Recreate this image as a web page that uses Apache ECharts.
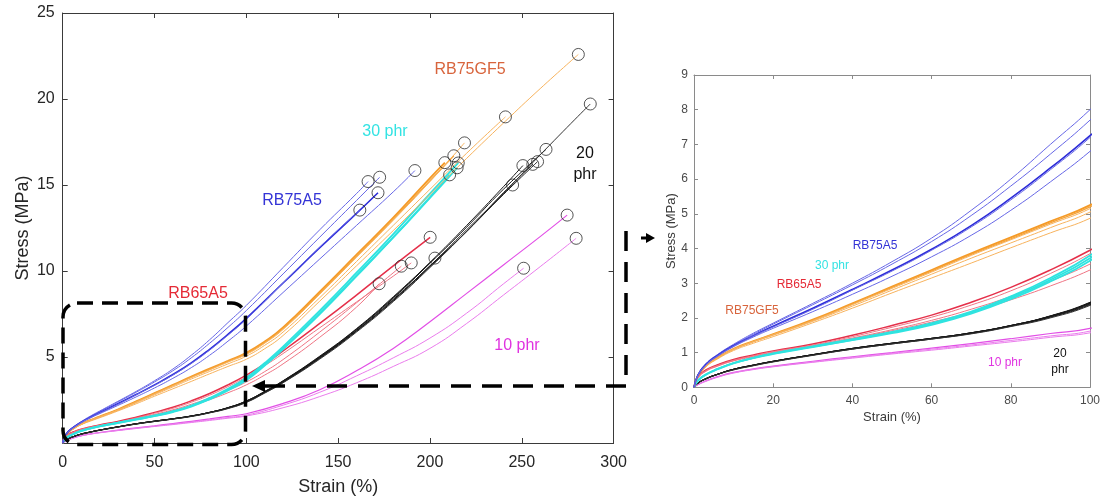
<!DOCTYPE html>
<html>
<head>
<meta charset="utf-8">
<script src="https://cdn.jsdelivr.net/npm/echarts@6/dist/echarts.min.js"></script>
<style>
  html, body { margin: 0; padding: 0; background: #fff; }
  #chart { width: 1104px; height: 501px; }
</style>
</head>
<body>
<div id="chart"></div>
<script>
// Stress–strain curves, [strain %, stress MPa]; each group holds its replicate specimens.
const rb75a5 = [
  [[0,0],[1,0.36],[3,0.68],[6,0.95],[10,1.24],[15,1.56],[20,1.85],[30,2.42],[40,3.0],[50,3.62],[60,4.3],[70,5.1],[80,6.0],[90,7.0],[100,8.0],[120,10.2],[140,12.4],[160,14.5],[166.3,15.2]],
  [[0,0],[1,0.35],[3,0.67],[6,0.94],[10,1.22],[15,1.53],[20,1.82],[30,2.38],[40,2.95],[50,3.55],[60,4.2],[70,4.95],[80,5.8],[90,6.72],[100,7.7],[120,9.83],[140,11.97],[160,14.1],[172.6,15.45]],
  [[0,0],[1,0.35],[3,0.66],[6,0.92],[10,1.2],[15,1.49],[20,1.76],[30,2.28],[40,2.82],[50,3.38],[60,3.98],[70,4.66],[80,5.45],[90,6.32],[100,7.25],[120,9.3],[140,11.35],[160,13.35],[171.7,14.55]],
  [[0,0],[1,0.34],[3,0.65],[6,0.91],[10,1.19],[15,1.48],[20,1.74],[30,2.25],[40,2.8],[50,3.35],[60,3.95],[70,4.62],[80,5.4],[90,6.27],[100,7.2],[120,9.3],[140,11.4],[161.8,13.54]],
  [[0,0],[1,0.34],[3,0.64],[6,0.9],[10,1.17],[15,1.45],[20,1.7],[30,2.18],[40,2.68],[50,3.2],[60,3.76],[70,4.38],[80,5.1],[90,5.92],[100,6.8],[120,8.75],[140,10.7],[160,12.65],[180,14.6],[191.8,15.84]]
];
const rb75gf5 = [
  [[0,0],[1,0.34],[3,0.62],[6,0.86],[10,1.11],[15,1.33],[20,1.53],[30,1.95],[40,2.42],[50,2.9],[60,3.38],[70,3.86],[80,4.32],[90,4.78],[100,5.25],[110,5.9],[120,6.72],[140,8.8],[160,10.95],[180,13.1],[200,15.4],[208.1,16.3]],
  [[0,0],[1,0.34],[3,0.62],[6,0.85],[10,1.1],[15,1.32],[20,1.52],[30,1.93],[40,2.4],[50,2.88],[60,3.35],[70,3.83],[80,4.28],[90,4.74],[100,5.2],[110,5.85],[120,6.65],[140,8.7],[160,10.85],[180,13.0],[200,15.25],[213,16.7]],
  [[0,0],[1,0.33],[3,0.61],[6,0.85],[10,1.1],[15,1.32],[20,1.52],[30,1.92],[40,2.38],[50,2.85],[60,3.32],[70,3.8],[80,4.25],[90,4.7],[100,5.15],[110,5.8],[120,6.6],[140,8.65],[160,10.8],[180,12.95],[200,15.2],[218.8,17.45]],
  [[0,0],[1,0.33],[3,0.6],[6,0.84],[10,1.09],[15,1.31],[20,1.5],[30,1.9],[40,2.34],[50,2.8],[60,3.26],[70,3.72],[80,4.16],[90,4.6],[100,5.05],[110,5.68],[120,6.45],[140,8.45],[160,10.55],[180,12.65],[200,14.75],[220,16.85],[241.1,18.96]],
  [[0,0],[1,0.32],[3,0.59],[6,0.82],[10,1.06],[15,1.27],[20,1.46],[30,1.86],[40,2.28],[50,2.72],[60,3.15],[70,3.58],[80,4.02],[90,4.45],[100,4.87],[110,5.48],[120,6.25],[140,8.25],[160,10.3],[180,12.35],[200,14.45],[220,16.55],[240,18.6],[260,20.6],[280.8,22.59]]
];
const phr30 = [
  [[0,0],[1,0.2],[3,0.37],[6,0.53],[10,0.7],[15,0.85],[20,0.98],[30,1.18],[40,1.39],[50,1.6],[60,1.85],[70,2.18],[80,2.62],[90,3.15],[100,3.8],[110,4.65],[120,5.6],[140,7.7],[160,9.9],[180,12.15],[200,14.5],[215.4,16.28]],
  [[0,0],[1,0.2],[3,0.37],[6,0.53],[10,0.7],[15,0.85],[20,0.97],[30,1.17],[40,1.37],[50,1.58],[60,1.82],[70,2.15],[80,2.58],[90,3.1],[100,3.72],[110,4.55],[120,5.5],[140,7.55],[160,9.75],[180,11.95],[200,14.25],[214.8,16.0]],
  [[0,0],[1,0.19],[3,0.36],[6,0.52],[10,0.69],[15,0.84],[20,0.96],[30,1.16],[40,1.36],[50,1.56],[60,1.8],[70,2.12],[80,2.54],[90,3.05],[100,3.65],[110,4.5],[120,5.45],[140,7.5],[160,9.7],[180,11.95],[200,14.3],[210.7,15.59]]
];
const rb65a5 = [
  [[0,0],[1,0.3],[3,0.5],[6,0.65],[10,0.8],[15,0.93],[20,1.05],[30,1.25],[40,1.5],[50,1.78],[60,2.08],[70,2.45],[80,2.88],[90,3.38],[100,3.95],[110,4.6],[120,5.35],[140,6.95],[160,8.6],[180,10.3],[200.1,11.96]],
  [[0,0],[1,0.29],[3,0.48],[6,0.63],[10,0.78],[15,0.91],[20,1.03],[30,1.22],[40,1.46],[50,1.73],[60,2.02],[70,2.37],[80,2.78],[90,3.28],[100,3.85],[110,4.5],[120,5.2],[140,6.7],[160,8.2],[180,9.7],[189.8,10.47]],
  [[0,0],[1,0.28],[3,0.47],[6,0.62],[10,0.77],[15,0.9],[20,1.01],[30,1.2],[40,1.42],[50,1.66],[60,1.93],[70,2.25],[80,2.62],[90,3.06],[100,3.55],[110,4.15],[120,4.85],[140,6.45],[160,8.15],[184.4,10.28]],
  [[0,0],[1,0.27],[3,0.46],[6,0.61],[10,0.76],[15,0.88],[20,0.99],[30,1.18],[40,1.4],[50,1.63],[60,1.88],[70,2.17],[80,2.52],[90,2.92],[100,3.38],[110,3.95],[120,4.6],[140,6.15],[160,7.9],[172.3,9.26]]
];
const phr20 = [
  [[0,0],[1,0.12],[3,0.25],[6,0.38],[10,0.52],[15,0.64],[20,0.75],[30,0.94],[40,1.12],[50,1.27],[60,1.41],[70,1.57],[80,1.78],[90,2.06],[100,2.45],[110,3.0],[120,3.62],[140,5.05],[160,6.65],[180,8.5],[202.7,10.75]],
  [[0,0],[1,0.12],[3,0.25],[6,0.38],[10,0.52],[15,0.64],[20,0.75],[30,0.94],[40,1.12],[50,1.27],[60,1.41],[70,1.57],[80,1.78],[90,2.05],[100,2.42],[110,2.96],[120,3.57],[140,4.98],[160,6.55],[180,8.35],[200,10.3],[220,12.4],[245,15.0]],
  [[0,0],[1,0.12],[3,0.25],[6,0.38],[10,0.52],[15,0.64],[20,0.75],[30,0.94],[40,1.12],[50,1.27],[60,1.41],[70,1.57],[80,1.78],[90,2.05],[100,2.44],[110,2.99],[120,3.6],[140,5.02],[160,6.62],[180,8.45],[200,10.5],[220,12.65],[240,14.9],[250.6,16.13]],
  [[0,0],[1,0.12],[3,0.24],[6,0.37],[10,0.51],[15,0.63],[20,0.74],[30,0.93],[40,1.11],[50,1.26],[60,1.4],[70,1.56],[80,1.77],[90,2.03],[100,2.4],[110,2.94],[120,3.55],[140,4.95],[160,6.52],[180,8.3],[200,10.3],[220,12.3],[240,14.55],[256,16.2]],
  [[0,0],[1,0.12],[3,0.24],[6,0.37],[10,0.51],[15,0.63],[20,0.74],[30,0.93],[40,1.1],[50,1.25],[60,1.39],[70,1.55],[80,1.76],[90,2.02],[100,2.38],[110,2.92],[120,3.52],[140,4.92],[160,6.5],[180,8.28],[200,10.25],[220,12.3],[240,14.45],[258.6,16.36]],
  [[0,0],[1,0.12],[3,0.25],[6,0.38],[10,0.52],[15,0.64],[20,0.75],[30,0.94],[40,1.12],[50,1.27],[60,1.41],[70,1.57],[80,1.78],[90,2.05],[100,2.43],[110,2.98],[120,3.6],[140,5.0],[160,6.6],[180,8.42],[200,10.45],[220,12.55],[240,14.75],[263.2,17.07]],
  [[0,0],[1,0.11],[3,0.24],[6,0.37],[10,0.5],[15,0.62],[20,0.73],[30,0.92],[40,1.1],[50,1.25],[60,1.39],[70,1.54],[80,1.75],[90,2.0],[100,2.36],[110,2.9],[120,3.5],[140,4.88],[160,6.45],[180,8.22],[200,10.2],[220,12.3],[240,14.5],[260,16.75],[287.3,19.71]]
];
const phr10 = [
  [[0,0],[1,0.08],[3,0.19],[6,0.31],[10,0.43],[15,0.53],[20,0.61],[30,0.75],[40,0.88],[50,1.0],[60,1.13],[70,1.26],[80,1.4],[90,1.55],[100,1.7],[120,2.3],[140,3.1],[160,4.2],[180,5.5],[200,7.05],[220,8.7],[240,10.35],[260,12.0],[274.7,13.25]],
  [[0,0],[1,0.08],[3,0.18],[6,0.3],[10,0.42],[15,0.52],[20,0.6],[30,0.73],[40,0.86],[50,0.98],[60,1.1],[70,1.22],[80,1.35],[90,1.48],[100,1.62],[120,2.2],[140,2.95],[160,3.9],[180,4.95],[200,6.1],[220,7.55],[240,9.25],[251,10.16]],
  [[0,0],[1,0.07],[3,0.17],[6,0.29],[10,0.41],[15,0.51],[20,0.59],[30,0.72],[40,0.84],[50,0.96],[60,1.07],[70,1.19],[80,1.31],[90,1.44],[100,1.57],[120,2.05],[140,2.7],[160,3.5],[180,4.45],[200,5.5],[220,6.95],[240,8.6],[260,10.25],[279.6,11.9]]
];

// Axis ticks
const mainStrainTicks = [0, 50, 100, 150, 200, 250, 300];
const mainStressTicks = [0, 5, 10, 15, 20, 25];
const insetStrainTicks = [0, 20, 40, 60, 80, 100];
const insetStressTicks = [0, 1, 2, 3, 4, 5, 6, 7, 8, 9];

// Group labels
const groupNames = ['RB75A5', 'RB75GF5', '30 phr', 'RB65A5', '20\nphr', '10 phr'];

const FONT = "'Liberation Sans', Arial, Helvetica, sans-serif";

// Drawing order and line styles per group (one entry per replicate)
const groups = [
  { data: phr10,   color: ['#e24fe6', '#ea7cec', '#ea7cec'], width: [1.2, 1, 1] },
  { data: phr20,   color: ['#1a1a1a','#1a1a1a','#1a1a1a','#1a1a1a','#1a1a1a','#1a1a1a','#333'], width: [1, 1, 1, 1, 1, 1, 1] },
  { data: rb65a5,  color: ['#e5304a', '#ef7584', '#ef7584', '#ef7584'], width: [1.5, 1, 1, 1] },
  { data: phr30,   color: ['#2fe3e0', '#2fe3e0', '#2fe3e0'], width: [1.8, 1.8, 1.8] },
  { data: rb75gf5, color: ['#f59a26', '#f5a33a', '#f7b35e', '#f7b35e', '#f7b35e'], width: [1.8, 1.3, 1, 1, 1] },
  { data: rb75a5,  color: ['#6767e6', '#6767e6', '#2c2cd8', '#6767e6', '#6767e6'], width: [1, 1, 1.6, 1, 1] }
];

function span(ticks) {
  return { min: ticks[0], max: ticks[ticks.length - 1], interval: ticks[1] - ticks[0] };
}

const series = [];
groups.forEach(g => {
  g.data.forEach((curve, i) => {
    const common = {
      type: 'line', data: curve, smooth: 0.5,
      symbol: 'none', silent: true, animation: false,
      lineStyle: { color: g.color[i], width: g.width[i] }
    };
    series.push(Object.assign({ xAxisIndex: 0, yAxisIndex: 0 }, common));
    series.push(Object.assign({ xAxisIndex: 2, yAxisIndex: 2, clip: true }, common));
  });
});

// Break points: last sample of each specimen
const breakPoints = [];
groups.forEach(g => g.data.forEach(curve => breakPoints.push(curve[curve.length - 1])));
series.push({
  type: 'scatter', xAxisIndex: 0, yAxisIndex: 0, data: breakPoints,
  symbol: 'circle', symbolSize: 12, silent: true, animation: false, z: 5,
  itemStyle: { color: 'rgba(0,0,0,0)', borderColor: '#2a2a2a', borderWidth: 1 }
});

const mainAxisColor = '#3a3a3a';
const insetAxisColor = '#8a8a8a';

function xAxisDef(grid, ticks, pos, style) {
  return Object.assign({
    type: 'value', gridIndex: grid, position: pos,
    splitLine: { show: false },
    axisLine: { show: true, onZero: false, lineStyle: { color: style.line, width: 1 } },
    axisTick: { show: true, inside: true, length: style.tick, lineStyle: { color: style.line } },
    axisLabel: { show: pos === 'bottom', color: style.text, fontSize: style.font, fontFamily: FONT, margin: style.margin }
  }, span(ticks));
}
function yAxisDef(grid, ticks, pos, style, hideZero) {
  return Object.assign({
    type: 'value', gridIndex: grid, position: pos,
    splitLine: { show: false },
    axisLine: { show: true, onZero: false, lineStyle: { color: style.line, width: 1 } },
    axisTick: { show: true, inside: true, length: style.tick, lineStyle: { color: style.line } },
    axisLabel: { show: pos === 'left', color: style.text, fontSize: style.font, fontFamily: FONT, margin: style.ymargin,
      formatter: v => (hideZero && v === 0) ? '' : String(v) }
  }, span(ticks));
}

const mainStyle = { line: mainAxisColor, text: '#262626', font: 16, tick: 5, margin: 12, ymargin: 8 };
const insetStyle = { line: insetAxisColor, text: '#4a4a4a', font: 12, tick: 4, margin: 7, ymargin: 6 };

const xMain = xAxisDef(0, mainStrainTicks, 'bottom', mainStyle);
Object.assign(xMain, { name: 'Strain (%)', nameLocation: 'middle', nameGap: 35,
  nameTextStyle: { color: '#262626', fontSize: 18, fontFamily: FONT } });
const yMain = yAxisDef(0, mainStressTicks, 'left', mainStyle, true);
Object.assign(yMain, { name: 'Stress (MPa)', nameLocation: 'middle', nameGap: 31,
  nameTextStyle: { color: '#262626', fontSize: 18, fontFamily: FONT } });
const xInset = xAxisDef(1, insetStrainTicks, 'bottom', insetStyle);
Object.assign(xInset, { name: 'Strain (%)', nameLocation: 'middle', nameGap: 23,
  nameTextStyle: { color: '#3a3a3a', fontSize: 13, fontFamily: FONT } });
const yInset = yAxisDef(1, insetStressTicks, 'left', insetStyle, false);
Object.assign(yInset, { name: 'Stress (MPa)', nameLocation: 'middle', nameGap: 16,
  nameTextStyle: { color: '#3a3a3a', fontSize: 13, fontFamily: FONT } });

function label(text, x, y, color, size) {
  return { type: 'text', x: x, y: y, silent: true, z: 10,
    style: { text: text, fill: color, font: size + 'px ' + FONT,
      textAlign: 'center', textVerticalAlign: 'middle', align: 'center', verticalAlign: 'middle', lineHeight: size * 1.35 } };
}

const graphics = [
  // group names on the full-range plot
  label(groupNames[0], 292, 201, '#3434d6', 16),
  label(groupNames[1], 470, 70, '#d8643c', 16),
  label(groupNames[2], 385, 132, '#33e3e3', 16),
  label(groupNames[3], 198, 294, '#e52a36', 16),
  label(groupNames[4], 585, 164, '#111111', 16),
  label(groupNames[5], 517, 346, '#e033e0', 16),
  // group names on the 0–100 % detail plot
  label(groupNames[0], 875, 246, '#3434d6', 12),
  label(groupNames[2], 832, 266, '#33e3e3', 12),
  label(groupNames[3], 799, 285, '#e52a36', 12),
  label(groupNames[1], 752, 311, '#d8643c', 12),
  label(groupNames[5], 1005, 363, '#e033e0', 12),
  label(groupNames[4], 1060, 362, '#111111', 12),
  // zoom box around the 0–100 % region
  { type: 'rect', silent: true, z: 8,
    shape: { x: 63, y: 303, width: 182.5, height: 141.5, r: 14 },
    style: { fill: 'none', stroke: '#000', lineWidth: 3.5, lineDash: [16, 9] } },
  // connector to the detail plot
  { type: 'polyline', silent: true, z: 8,
    shape: { points: [[265, 386], [626, 386], [626, 231], [633, 231]] },
    style: { fill: 'none', stroke: '#000', lineWidth: 3.5, lineDash: [20, 11] } },
  { type: 'polygon', silent: true, z: 8,
    shape: { points: [[252, 386], [265, 380], [265, 392]] }, style: { fill: '#000' } },
  { type: 'line', silent: true, z: 8,
    shape: { x1: 641, y1: 238, x2: 648, y2: 238 }, style: { stroke: '#000', lineWidth: 3 } },
  { type: 'polygon', silent: true, z: 8,
    shape: { points: [[655, 238], [646, 233], [646, 243]] }, style: { fill: '#000' } }
];

const chart = echarts.init(document.getElementById('chart'), null, { renderer: 'canvas' });
chart.setOption({
  backgroundColor: '#ffffff',
  animation: false,
  grid: [
    { left: 61, top: 13, width: 552.6, height: 434 },
    { left: 694, top: 75, width: 396, height: 312.3 }
  ],
  xAxis: [xMain, xAxisDef(0, mainStrainTicks, 'top', mainStyle), xInset, xAxisDef(1, insetStrainTicks, 'top', insetStyle)],
  yAxis: [yMain, yAxisDef(0, mainStressTicks, 'right', mainStyle, true), yInset, yAxisDef(1, insetStressTicks, 'right', insetStyle, false)],
  series: series,
  graphic: graphics
});
</script>
</body>
</html>
